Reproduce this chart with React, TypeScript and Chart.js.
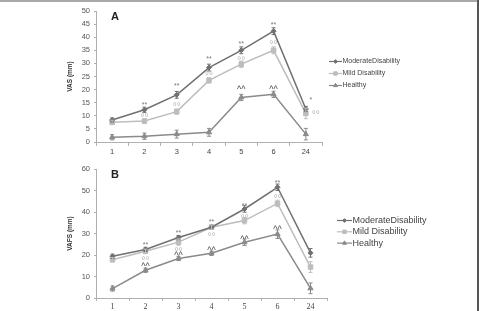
import React, { useEffect, useRef } from 'react';
import { Chart, registerables } from 'chart.js';
import { drawPoint } from 'chart.js/helpers';
Chart.register(...registerables);

// ---- data ----
const hours = ['1', '2', '3', '4', '5', '6', '24'];
const seriesLabels = ['ModerateDisability', 'Mild Disability', 'Healthy'];

// Panel A: VAS (mm)
const vasModerate = [8.4, 12.3, 18.0, 28.4, 35.0, 42.3, 12.6];
const vasMild = [7.5, 8.0, 11.6, 23.5, 29.7, 35.0, 10.9];
const vasHealthy = [1.8, 2.2, 3.0, 3.7, 17.0, 18.2, 3.0];
const vasModerateErr = [0.8, 1.0, 1.3, 1.3, 1.3, 1.3, 1.0];
const vasMildErr = [0.8, 0.8, 1.0, 1.0, 1.2, 1.3, 2.0];
const vasHealthyErr = [1.0, 1.2, 1.5, 1.5, 1.2, 1.2, 2.2];
const vasModerateSig = ['', '**', '**', '**', '**', '**', '*'];
const vasModerateSigAt = [0, 14.5, 21.7, 31.9, 37.6, 45.0, 16.2];
const vasMildSig = ['', '°°', '°°', '°°', '°°', '°°', '°°'];
const vasMildSigAt = [0, 10.2, 14.4, 26.4, 31.9, 37.9, 11.2];
const vasHealthySig = ['', '', '', '', '^^', '^^', ''];
const vasHealthySigAt = [0, 0, 0, 0, 20.8, 20.8, 0];
const vasTicks = [0, 50, 5];

// Panel B: VAFS (mm)
const vafsModerate = [19.4, 22.6, 28.1, 32.9, 41.4, 51.5, 21.0];
const vafsMild = [17.8, 21.7, 26.0, 32.9, 36.0, 44.0, 14.4];
const vafsHealthy = [4.4, 12.9, 18.4, 20.8, 25.9, 29.7, 4.5];
const vafsModerateErr = [1.0, 1.0, 1.0, 1.0, 1.5, 1.5, 2.0];
const vafsMildErr = [1.0, 1.0, 1.5, 1.0, 1.5, 1.5, 2.5];
const vafsHealthyErr = [1.2, 1.0, 1.0, 1.0, 1.5, 2.0, 2.5];
const vafsModerateSig = ['', '**', '**', '**', '**', '**', ''];
const vafsModerateSigAt = [0, 25.1, 30.5, 36.0, 43.1, 54.0, 0];
const vafsMildSig = ['', '°°', '°°', '°°', '°°', '°°', ''];
const vafsMildSigAt = [0, 18.6, 22.5, 29.5, 38.0, 47.1, 0];
const vafsHealthySig = ['', '^^', '^^', '^^', '^^', '^^', ''];
const vafsHealthySigAt = [0, 15.5, 20.8, 22.9, 28.0, 33.0, 0];
const vafsTicks = [0, 60, 10];

const COL_MOD = '#707070';
const COL_MILD = '#bdbdbd';
const COL_HEALTHY = '#8a8a8a';

const extrasPlugin = {
  id: 'extras',
  afterDatasetsDraw(chart: any, _args: any, opts: any) {
    const { ctx } = chart;
    const xs = chart.scales.x;
    const ys = chart.scales.y;
    (opts.errors || []).forEach((errs: number[], di: number) => {
      const ds = chart.data.datasets[di];
      ctx.save();
      ctx.strokeStyle = ds.borderColor;
      ctx.lineWidth = 1;
      errs.forEach((e, i) => {
        const v = ds.data[i];
        const px = xs.getPixelForValue(i);
        const t = ys.getPixelForValue(v + e);
        const b = ys.getPixelForValue(v - e);
        ctx.beginPath();
        ctx.moveTo(px, t); ctx.lineTo(px, b);
        ctx.moveTo(px - 2, t); ctx.lineTo(px + 2, t);
        ctx.moveTo(px - 2, b); ctx.lineTo(px + 2, b);
        ctx.stroke();
      });
      ctx.restore();
    });
    (opts.marks || []).forEach((m: any) => {
      ctx.save();
      ctx.fillStyle = m.color;
      ctx.font = m.font;
      ctx.textAlign = 'center';
      ctx.textBaseline = 'middle';
      m.texts.forEach((t: string, i: number) => {
        if (!t) return;
        const px = xs.getPixelForValue(i) + (i === m.texts.length - 1 ? m.lastShift || 0 : 0);
        const py = ys.getPixelForValue(m.at[i]) + (m.dy || 0);
        ctx.fillText(t, px, py);
      });
      ctx.restore();
    });
  },
  afterDraw(chart: any, _args: any, opts: any) {
    const { ctx, chartArea } = chart;
    if (opts.letter) {
      ctx.save();
      ctx.fillStyle = '#222';
      ctx.font = 'bold 11px "Liberation Sans", Arial, sans-serif';
      ctx.textAlign = 'left';
      ctx.textBaseline = 'middle';
      ctx.fillText(opts.letter, chartArea.left + opts.letterDx, chartArea.top + opts.letterDy);
      ctx.restore();
    }
    const lg = opts.legend;
    if (lg) {
      chart.data.datasets.forEach((ds: any, i: number) => {
        const y = lg.y + i * lg.rowH;
        ctx.save();
        ctx.strokeStyle = ds.borderColor;
        ctx.lineWidth = 1.2;
        ctx.beginPath();
        ctx.moveTo(lg.x, y);
        ctx.lineTo(lg.x + lg.len, y);
        ctx.stroke();
        ctx.restore();
        ctx.save();
        ctx.fillStyle = ds.pointBackgroundColor;
        ctx.strokeStyle = ds.pointBorderColor;
        ctx.lineWidth = 1;
        drawPoint(ctx, { pointStyle: ds.pointStyle, radius: ds.pointRadius * 0.75, borderWidth: 1, rotation: 0 } as any, lg.x + lg.len / 2, y);
        ctx.restore();
        ctx.save();
        ctx.fillStyle = '#444';
        ctx.font = lg.font;
        ctx.textAlign = 'left';
        ctx.textBaseline = 'middle';
        ctx.fillText(ds.label, lg.x + lg.len + 0.5, y);
        ctx.restore();
      });
    }
  },
};

function makeDatasets(mod: number[], mild: number[], healthy: number[]) {
  const base = { borderWidth: 1.5, pointBorderWidth: 1, tension: 0 };
  return [
    { ...base, label: seriesLabels[0], data: mod, borderColor: COL_MOD, pointBackgroundColor: COL_MOD, pointBorderColor: COL_MOD, pointStyle: 'rectRot', pointRadius: 2.5 },
    { ...base, label: seriesLabels[1], data: mild, borderColor: COL_MILD, pointBackgroundColor: COL_MILD, pointBorderColor: COL_MILD, pointStyle: 'rect', pointRadius: 3.2 },
    { ...base, label: seriesLabels[2], data: healthy, borderColor: COL_HEALTHY, pointBackgroundColor: COL_HEALTHY, pointBorderColor: COL_HEALTHY, pointStyle: 'triangle', pointRadius: 3 },
  ];
}

type PanelProps = { top: number; height: number; cfg: any };

function Panel({ top, height, cfg }: PanelProps) {
  const ref = useRef<HTMLCanvasElement | null>(null);
  useEffect(() => {
    if (!ref.current) return;
    const chart = new Chart(ref.current, cfg);
    return () => chart.destroy();
  }, []);
  return (
    <canvas
      ref={ref}
      width={479}
      height={height}
      style={{ position: 'absolute', left: 0, top, width: 479, height, display: 'block' }}
    />
  );
}

function buildConfig(p: any) {
  const tickFont = { family: '"Liberation Sans", Arial, sans-serif', size: 7.5 };
  return {
    type: 'line',
    data: { labels: hours, datasets: makeDatasets(p.mod, p.mild, p.healthy) },
    plugins: [extrasPlugin],
    options: {
      responsive: false,
      animation: false,
      devicePixelRatio: 1,
      layout: { padding: { left: 65, right: p.padRight, top: p.padTop, bottom: 0 } },
      plugins: {
        legend: { display: false },
        tooltip: { enabled: false },
        extras: {
          errors: p.errors,
          marks: p.marks,
          letter: p.letter,
          letterDx: 15,
          letterDy: p.letterDy,
          legend: p.legend,
        },
      },
      scales: {
        x: {
          offset: true,
          grid: { offset: true, drawOnChartArea: false, drawTicks: true, tickLength: p.xTickLen, color: '#b0b0b0' },
          border: { color: '#b0b0b0', width: 1 },
          ticks: { font: p.xFont, color: '#444', padding: 1, maxRotation: 0, autoSkip: false },
          afterFit: (s: any) => { s.height = p.xHeight; },
        },
        y: {
          min: p.yTicks[0],
          max: p.yTicks[1],
          grid: { drawOnChartArea: false, drawTicks: true, tickLength: 2, color: '#b0b0b0' },
          border: { color: '#b0b0b0', width: 1 },
          ticks: { stepSize: p.yTicks[2], font: tickFont, color: '#555', padding: 4 },
          title: {
            display: true,
            text: p.yTitle,
            font: { family: '"Liberation Sans", Arial, sans-serif', size: 6.5, weight: 'bold' },
            color: '#333',
            padding: { top: 1, bottom: 0 },
          },
          afterFit: (s: any) => { s.width = 31; },
        },
      },
    },
  };
}

const starFont = '7px "Liberation Sans", Arial, sans-serif';
const ringFont = '10px "Liberation Sans", Arial, sans-serif';
const caretFont = '9px "Liberation Sans", Arial, sans-serif';

const cfgA = buildConfig({
  mod: vasModerate, mild: vasMild, healthy: vasHealthy,
  errors: [vasModerateErr, vasMildErr, vasHealthyErr],
  marks: [
    { texts: vasModerateSig, at: vasModerateSigAt, color: '#777', font: starFont, lastShift: 5, dy: 1 },
    { texts: vasMildSig, at: vasMildSigAt, color: '#b8b8b8', font: ringFont, lastShift: 10, dy: 3 },
    { texts: vasHealthySig, at: vasHealthySigAt, color: '#444', font: caretFont, lastShift: 0, dy: 2 },
  ],
  yTicks: vasTicks,
  yTitle: 'VAS (mm)',
  padRight: 157,
  padTop: 11,
  xHeight: 16,
  xTickLen: 4,
  xFont: { family: '"Liberation Sans", Arial, sans-serif', size: 7.5 },
  letter: 'A',
  letterDy: 5.5,
  legend: { x: 329, y: 61.5, rowH: 12, len: 13, font: '7px "Liberation Sans", Arial, sans-serif' },
});

const cfgB = buildConfig({
  mod: vafsModerate, mild: vafsMild, healthy: vafsHealthy,
  errors: [vafsModerateErr, vafsMildErr, vafsHealthyErr],
  marks: [
    { texts: vafsModerateSig, at: vafsModerateSigAt, color: '#777', font: starFont, lastShift: 0, dy: 1 },
    { texts: vafsMildSig, at: vafsMildSigAt, color: '#b8b8b8', font: ringFont, lastShift: 0, dy: 3 },
    { texts: vafsHealthySig, at: vafsHealthySigAt, color: '#444', font: caretFont, lastShift: 0, dy: 2 },
  ],
  yTicks: vafsTicks,
  yTitle: 'VAFS (mm)',
  padRight: 152,
  padTop: 11,
  xHeight: 13,
  xTickLen: 3,
  xFont: { family: '"Liberation Serif", "Times New Roman", serif', size: 8 },
  letter: 'B',
  letterDy: 5.5,
  legend: { x: 337, y: 62.5, rowH: 11.3, len: 15, font: '9px "Liberation Sans", Arial, sans-serif' },
});

export default function App() {
  return (
    <div style={{ position: 'fixed', left: 0, top: 0, width: 479, height: 311, background: '#fff', overflow: 'hidden' }}>
      <Panel top={0} height={158} cfg={cfgA} />
      <Panel top={158} height={153} cfg={cfgB} />
      <div style={{ position: 'absolute', left: 0, top: 0, width: 479, height: 2, background: '#a8a8a8' }} />
      <div style={{ position: 'absolute', left: 477, top: 0, width: 2, height: 311, background: '#555' }} />
    </div>
  );
}
